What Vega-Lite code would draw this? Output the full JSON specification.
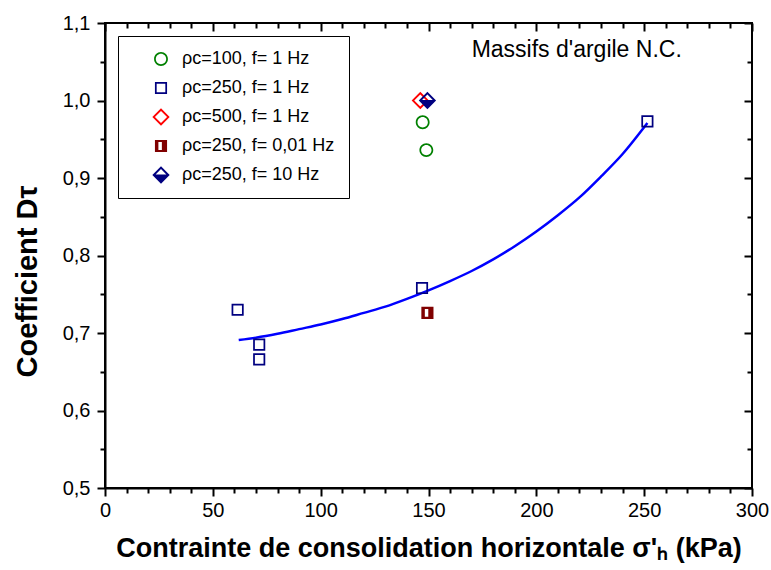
{
  "$schema": "https://vega.github.io/schema/vega-lite/v6.json",
  "width": 647,
  "height": 465,
  "padding": {"left": 13, "top": 13, "right": 0, "bottom": 2},
  "config": {
    "view": {"stroke": "black", "strokeWidth": 2},
    "font": "Liberation Sans",
    "axis": {
      "grid": false,
      "ticks": true,
      "domainColor": "black",
      "domainWidth": 2,
      "tickColor": "black",
      "tickWidth": 2,
      "labelColor": "black",
      "titleColor": "black",
      "labelFont": "Liberation Sans",
      "titleFont": "Liberation Sans",
      "labelFontSize": 20,
      "titleFontSize": 27,
      "titleFontWeight": "bold",
      "labelFlush": false,
      "labelOverlap": false
    },
    "legend": {
      "orient": "top-left",
      "offset": 13,
      "strokeColor": "black",
      "strokeWidth": 1,
      "fillColor": "white",
      "padding": 14,
      "labelFont": "Liberation Sans",
      "labelFontSize": 18,
      "labelColor": "black",
      "symbolSize": 300,
      "symbolStrokeWidth": 0,
      "symbolOffset": 20,
      "labelOffset": 12,
      "rowPadding": 11
    }
  },
  "datasets": {
    "pts": [
      {"sigma": 147.3, "D": 0.972, "serie": "ρc=100, f= 1 Hz"},
      {"sigma": 149.0, "D": 0.936, "serie": "ρc=100, f= 1 Hz"},
      {"sigma": 61.5, "D": 0.730, "serie": "ρc=250, f= 1 Hz"},
      {"sigma": 71.5, "D": 0.685, "serie": "ρc=250, f= 1 Hz"},
      {"sigma": 71.5, "D": 0.666, "serie": "ρc=250, f= 1 Hz"},
      {"sigma": 147.0, "D": 0.758, "serie": "ρc=250, f= 1 Hz"},
      {"sigma": 251.5, "D": 0.973, "serie": "ρc=250, f= 1 Hz"},
      {"sigma": 146.2, "D": 1.0, "serie": "ρc=500, f= 1 Hz"},
      {"sigma": 149.5, "D": 0.726, "serie": "ρc=250, f= 0,01 Hz"},
      {"sigma": 149.5, "D": 1.0, "serie": "ρc=250, f= 10 Hz"}
    ],
    "curve": [
      {"sigma": 62, "D": 0.691},
      {"sigma": 70, "D": 0.694},
      {"sigma": 80, "D": 0.699},
      {"sigma": 90, "D": 0.705},
      {"sigma": 100, "D": 0.711},
      {"sigma": 110, "D": 0.718},
      {"sigma": 120, "D": 0.726},
      {"sigma": 130, "D": 0.734},
      {"sigma": 140, "D": 0.744},
      {"sigma": 150, "D": 0.755},
      {"sigma": 160, "D": 0.767},
      {"sigma": 170, "D": 0.780},
      {"sigma": 180, "D": 0.795},
      {"sigma": 190, "D": 0.812},
      {"sigma": 200, "D": 0.831},
      {"sigma": 210, "D": 0.852},
      {"sigma": 220, "D": 0.875},
      {"sigma": 230, "D": 0.902},
      {"sigma": 240, "D": 0.931},
      {"sigma": 251.5, "D": 0.971}
    ],
    "note": [
      {"sigma": 170, "D": 1.065, "txt": "Massifs d'argile N.C."}
    ]
  },
  "layer": [
    {
      "data": {"name": "curve"},
      "mark": {"type": "line", "color": "#0000FF", "strokeWidth": 2.5, "interpolate": "monotone"},
      "encoding": {
        "x": {
          "field": "sigma", "type": "quantitative",
          "scale": {"domain": [0, 300], "nice": false, "zero": false},
          "axis": {
            "orient": "bottom",
            "title": "Contrainte de consolidation horizontale σ'ₕ (kPa)",
            "values": [0, 50, 100, 150, 200, 250, 300],
            "ticks": true,
            "tickColor": "black",
            "tickSize": 8,
            "tickWidth": 2,
            "labelPadding": 4,
            "titlePadding": 15
          }
        },
        "y": {
          "field": "D", "type": "quantitative",
          "scale": {"domain": [0.5, 1.1], "nice": false, "zero": false},
          "axis": {
            "orient": "left",
            "title": "Coefficient Dτ",
            "titleFontSize": 29,
            "titleY": 258,
            "values": [0.5, 0.6, 0.7, 0.8, 0.9, 1.0, 1.1],
            "labelExpr": "replace(format(datum.value, '.1f'), '.', ',')",
            "ticks": true,
            "tickColor": "black",
            "tickSize": 8,
            "tickWidth": 2,
            "labelPadding": 7,
            "titlePadding": 20
          }
        }
      }
    },
    {
      "data": {"name": "pts"},
      "transform": [{"filter": "datum.serie !== 'ρc=250, f= 0,01 Hz' && datum.serie !== 'ρc=250, f= 10 Hz'"}],
      "mark": {"type": "point", "filled": true, "size": 300, "strokeWidth": 0, "opacity": 1},
      "encoding": {
        "x": {
          "field": "sigma", "type": "quantitative",
          "axis": {
            "orient": "top", "title": null, "labels": false, "domain": false,
            "values": [0, 50, 100, 150, 200, 250, 300],
            "zindex": 1,
            "ticks": true,
            "tickColor": "black",
            "tickWidth": 2,
            "tickSize": -8
          }
        },
        "y": {
          "field": "D", "type": "quantitative",
          "axis": {
            "orient": "right", "title": null, "labels": false, "domain": false,
            "values": [0.5, 0.6, 0.7, 0.8, 0.9, 1.0, 1.1],
            "zindex": 1,
            "ticks": true,
            "tickColor": "black",
            "tickWidth": 2,
            "tickSize": -8
          }
        },
        "color": {
          "field": "serie", "type": "nominal",
          "scale": {
            "domain": ["ρc=100, f= 1 Hz", "ρc=250, f= 1 Hz", "ρc=500, f= 1 Hz", "ρc=250, f= 0,01 Hz", "ρc=250, f= 10 Hz"],
            "range": ["#008000", "#000080", "#FF0000", "#800000", "#000080"]
          },
          "legend": {"title": null}
        },
        "shape": {
          "field": "serie", "type": "nominal",
          "scale": {
            "domain": ["ρc=100, f= 1 Hz", "ρc=250, f= 1 Hz", "ρc=500, f= 1 Hz", "ρc=250, f= 0,01 Hz", "ρc=250, f= 10 Hz"],
            "range": [
              "M0.8,0A0.8,0.8,0,1,1,-0.8,0A0.8,0.8,0,1,1,0.8,0ZM0.6,0A0.6,0.6,0,1,0,-0.6,0A0.6,0.6,0,1,0,0.6,0Z",
              "M-0.7,-0.7H0.7V0.7H-0.7ZM-0.5,-0.5V0.5H0.5V-0.5Z",
              "M0,-1L1,0L0,1L-1,0ZM0,-0.7L-0.7,0L0,0.7L0.7,0Z",
              "M-0.7,-0.7H0.7V0.7H-0.7ZM-0.3,-0.45V0.45H0.1V-0.45Z",
              "M0,-1L1,0L0,1L-1,0ZM0,-0.68L-0.62,-0.06L0.62,-0.06Z"
            ]
          },
          "legend": {"title": null}
        }
      }
    },
    {
      "data": {"name": "pts"},
      "transform": [{"filter": "datum.serie === 'ρc=250, f= 0,01 Hz' || datum.serie === 'ρc=250, f= 10 Hz'"}],
      "mark": {"type": "point", "filled": true, "size": 300, "strokeWidth": 0, "opacity": 1},
      "encoding": {
        "x": {
          "field": "sigma", "type": "quantitative",
          "axis": {
            "orient": "top", "title": null, "labels": false, "domain": false,
            "values": [10,20,30,40,60,70,80,90,110,120,130,140,160,170,180,190,210,220,230,240,260,270,280,290],
            "zindex": 1,
            "ticks": true,
            "tickColor": "black",
            "tickWidth": 2,
            "tickSize": -5
          }
        },
        "y": {
          "field": "D", "type": "quantitative",
          "axis": {
            "orient": "right", "title": null, "labels": false, "domain": false,
            "values": [0.55, 0.65, 0.75, 0.85, 0.95, 1.05],
            "zindex": 1,
            "ticks": true,
            "tickColor": "black",
            "tickWidth": 2,
            "tickSize": -5
          }
        },
        "color": {"field": "serie", "type": "nominal", "legend": {"title": null}},
        "shape": {"field": "serie", "type": "nominal", "legend": {"title": null}}
      }
    },
    {
      "data": {"name": "note"},
      "mark": {"type": "text", "align": "left", "baseline": "middle", "fontSize": 23, "font": "Liberation Sans", "color": "black"},
      "encoding": {
        "x": {
          "field": "sigma", "type": "quantitative",
          "axis": {
            "orient": "bottom", "title": null, "labels": false, "domain": false,
            "values": [10,20,30,40,60,70,80,90,110,120,130,140,160,170,180,190,210,220,230,240,260,270,280,290],
            "ticks": true,
            "tickColor": "black",
            "tickWidth": 2,
            "tickSize": 5
          }
        },
        "y": {
          "field": "D", "type": "quantitative",
          "axis": {
            "orient": "left", "title": null, "labels": false, "domain": false,
            "values": [0.55, 0.65, 0.75, 0.85, 0.95, 1.05],
            "ticks": true,
            "tickColor": "black",
            "tickWidth": 2,
            "tickSize": 5
          }
        },
        "text": {"field": "txt"}
      }
    }
  ],
  "resolve": {"axis": {"x": "independent", "y": "independent"}}
}
